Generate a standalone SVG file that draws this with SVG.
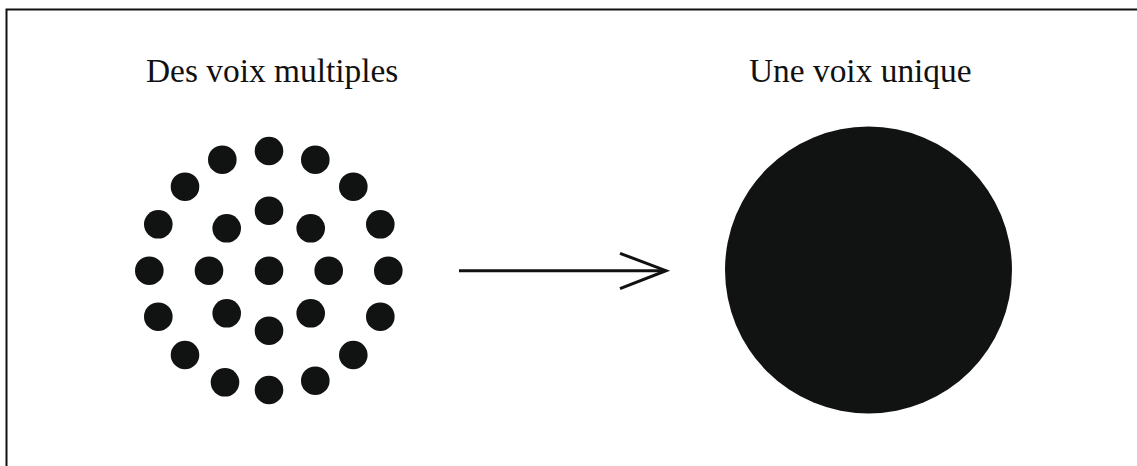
<svg xmlns="http://www.w3.org/2000/svg" width="1137" height="466" viewBox="0 0 1137 466">
<style>
.dot{fill:#111312}
.lbl{font-family:"Liberation Serif","Times New Roman",serif;font-size:33.4px;fill:#111}
.frame{stroke:#111;stroke-width:2;fill:none}
.conn{stroke:#111;stroke-width:3;fill:none}
</style>
<rect width="1137" height="466" fill="#fff"/>
<path class="frame" d="M6.5 466 V9.5 H1137"/>
<g id="label-multiples"><text class="lbl" x="146" y="82">Des voix multiples</text></g>
<g id="label-unique"><text class="lbl" x="749" y="82">Une voix unique</text></g>
<g id="node-multiples">
<circle class="dot" cx="269" cy="151" r="14.3"/>
<circle class="dot" cx="222.3" cy="159.7" r="14.3"/>
<circle class="dot" cx="315.3" cy="159.7" r="14.3"/>
<circle class="dot" cx="185" cy="186.7" r="14.3"/>
<circle class="dot" cx="353.3" cy="186.7" r="14.3"/>
<circle class="dot" cx="269" cy="210.7" r="14.3"/>
<circle class="dot" cx="158.3" cy="224.3" r="14.3"/>
<circle class="dot" cx="226.7" cy="228.3" r="14.3"/>
<circle class="dot" cx="310.7" cy="228.3" r="14.3"/>
<circle class="dot" cx="380.3" cy="224.3" r="14.3"/>
<circle class="dot" cx="149.3" cy="270.7" r="14.3"/>
<circle class="dot" cx="209" cy="270.7" r="14.3"/>
<circle class="dot" cx="269" cy="270.7" r="14.3"/>
<circle class="dot" cx="328.7" cy="270.7" r="14.3"/>
<circle class="dot" cx="388.3" cy="270.7" r="14.3"/>
<circle class="dot" cx="158.3" cy="316.7" r="14.3"/>
<circle class="dot" cx="226.7" cy="313.3" r="14.3"/>
<circle class="dot" cx="310.7" cy="313.3" r="14.3"/>
<circle class="dot" cx="380.3" cy="316.7" r="14.3"/>
<circle class="dot" cx="269" cy="330.7" r="14.3"/>
<circle class="dot" cx="185" cy="355" r="14.3"/>
<circle class="dot" cx="353.3" cy="355" r="14.3"/>
<circle class="dot" cx="225" cy="382.3" r="14.3"/>
<circle class="dot" cx="269" cy="390" r="14.3"/>
<circle class="dot" cx="315.3" cy="380.7" r="14.3"/>
</g>
<g id="node-unique">
<circle class="dot" cx="868.5" cy="270" r="143.5"/>
</g>
<g id="connectors">
<path class="conn" d="M459 270.7 H665"/>
<path class="conn" d="M620 253.3 L666 270.7 L620 288.7"/>
</g>
</svg>
